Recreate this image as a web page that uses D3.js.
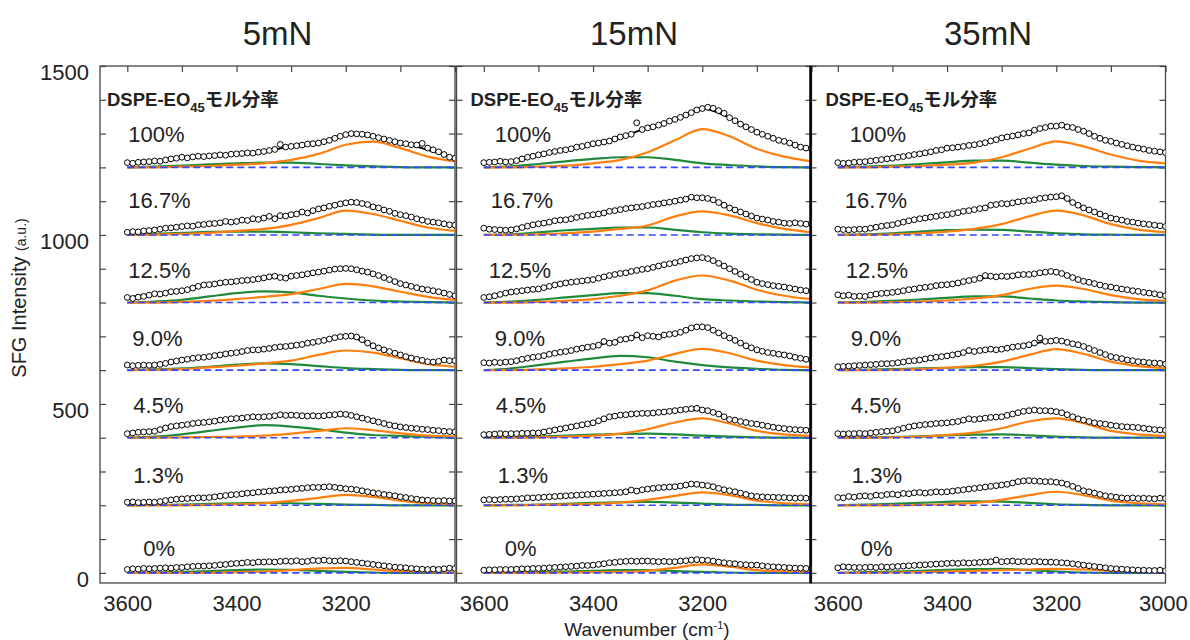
<!DOCTYPE html>
<html>
<head>
<meta charset="utf-8">
<script src="https://cdn.jsdelivr.net/npm/d3@7"></script>
<style>
  html, body { margin: 0; padding: 0; background: #fff; }
  svg { display: block; }
  text { font-family: "Liberation Sans", Arial, sans-serif; fill: #222; }
</style>
</head>
<body>
<svg id="chart" width="1190" height="640"></svg>
<script>
"use strict";
var panelTitles = ["5mN", "15mN", "35mN"];
var fractions = ["100%", "16.7%", "12.5%", "9.0%", "4.5%", "1.3%", "0%"];
var offsets = [1200, 1000, 800, 600, 400, 200, 0];
var fitWavenumbers = [3600, 3550, 3500, 3450, 3400, 3350, 3300, 3250, 3200, 3150, 3100, 3050, 3000];
var pointWavenumbers = d3.range(3600, 2995, -10);
var xTickLabels = [[3600, 3400, 3200], [3600, 3400, 3200], [3600, 3400, 3200, 3000]];
var yTickLabels = [0, 500, 1000, 1500];

// 5mN -- values above each trace's baseline (a.u.)
var points5 = [
  [14,12,15,16,17, 19,18,22,25,27, 30,28,31,33,32, 34,35,37,36,39, 40,41,43,42,45, 47,50,53,68,60,
   62,64,66,69,70, 72,76,80,86,92, 97,100,99,98,96, 92,88,84,80,76, 72,70,67,66,71, 57,52,46,38,30, 27],
  [8,10,9,12,13, 15,17,20,21,23, 25,27,26,30,31, 33,34,36,40,38, 40,44,43,48,46, 50,55,48,57,56,
   60,62,68,65,72, 77,80,85,88,92, 95,97,96,93,90, 83,80,74,70,64, 60,57,53,48,44, 40,38,36,33,30, 29],
  [15,12,16,18,22, 26,25,28,32,33, 35,38,43,48,52, 53,55,58,60,61, 63,65,66,68,70, 73,76,78,74,72,
   78,80,82,85,88, 90,93,96,99,100, 101,100,97,93,90, 85,80,74,68,62, 56,52,48,44,40, 38,35,32,28,24, 20],
  [15,13,14,15,14, 15,17,20,24,27, 30,32,35,37,38, 40,43,45,48,50, 52,55,58,60,60, 62,64,67,69,70,
   72,74,76,80,82, 85,88,92,96,99, 100,101,98,90,80, 72,66,60,55,50, 45,40,36,32,29, 25,24,26,30,28, 28],
  [12,14,16,17,18, 19,24,29,33,35, 37,39,42,44,45, 47,49,52,54,56, 57,58,60,62,61, 62,63,65,68,66,
   67,66,65,64,65, 64,65,67,68,70, 69,66,62,58,54, 50,46,42,38,35, 32,30,28,27,25, 24,22,21,19,18, 17],
  [9,10,8,9,10, 9,11,14,16,18, 19,20,21,22,22, 23,25,27,29,31, 32,34,36,37,39, 40,42,43,45,46,
   47,49,50,52,53, 53,54,55,53,51, 49,48,46,43,40, 37,35,32,30,28, 25,23,20,18,16, 15,14,13,14,13, 13],
  [10,12,11,13,12, 13,14,15,14,16, 16,18,19,20,20, 21,22,24,25,27, 28,29,31,30,32, 32,33,32,34,35,
   34,36,33,34,37, 36,38,36,35,36, 35,33,31,29,27, 25,23,21,19,17, 16,15,13,12,11, 10,11,10,12,14, 13]
];
var fit5 = [
  [14,19,30,34,40,47,62,72,97,92,72,52,27],
  [8,15,25,33,40,50,60,77,95,83,60,40,29],
  [15,26,35,53,63,73,78,90,101,85,56,38,20],
  [15,15,30,40,52,62,72,85,100,72,45,25,28],
  [12,19,37,47,57,62,67,64,69,50,32,24,17],
  [9,9,19,23,32,40,47,53,49,37,25,15,13],
  [10,13,16,21,28,32,34,36,35,25,16,10,13]
];
var orange5 = [
  [0,0,2,4,8,12,22,40,67,76,57,32,18],
  [0,1,3,6,12,18,30,50,72,62,42,22,12],
  [0,0,2,5,10,17,25,40,55,48,32,17,8],
  [0,1,3,8,13,20,28,45,58,52,35,18,10],
  [0,0,1,2,3,6,12,20,28,22,13,6,3],
  [0,0,0,1,3,6,13,22,31,25,14,6,3],
  [0,0,0,0,2,4,8,13,15,10,5,2,1]
];
var green5 = [
  [0,2,5,9,12,14,14,10,6,3,1,0,0],
  [0,3,6,9,10,10,8,5,3,1,0,0,0],
  [0,3,8,18,28,33,30,20,12,6,3,1,0],
  [0,2,5,10,16,20,18,12,6,3,1,0,0],
  [0,3,10,20,30,37,33,25,15,8,5,2,0],
  [0,1,2,4,6,7,6,4,2,1,0,0,0],
  [0,1,3,5,8,10,9,6,3,1,0,0,0]
];

// 15mN
var points15 = [
  [14,15,16,18,16, 17,20,25,30,33, 37,40,44,47,50, 52,55,60,62,66, 70,72,75,78,84, 90,94,98,132,112,
   117,120,125,130,137, 142,148,155,162,170, 174,178,175,168,160, 147,138,128,120,112, 104,98,92,86,80, 77,72,66,60,57, 54],
  [20,17,16,15,14, 15,18,22,26,30, 33,35,38,42,44, 45,48,52,55,58, 60,62,65,70,72, 75,78,80,82,84,
   87,90,92,95,97, 100,103,106,112,110, 110,108,104,96,88, 80,74,68,62,56, 50,47,44,40,38, 35,34,36,34,32, 35],
  [15,17,20,24,28, 31,33,35,37,39, 40,44,48,52,55, 58,60,62,64,66, 68,72,76,80,83, 86,88,92,95,98,
   100,104,108,112,115, 118,122,126,130,132, 133,130,124,116,108, 100,92,84,76,68, 60,56,53,50,48, 46,43,40,37,35, 33],
  [22,21,23,22,24, 25,28,32,35,38, 40,43,47,50,53, 55,58,62,65,68, 70,74,85,80,82, 90,92,95,104,96,
   102,100,98,104,106, 108,112,118,125,128, 128,126,118,110,102, 95,88,80,72,66, 60,56,52,50,47, 45,42,38,35,32, 30],
  [9,10,11,12,11, 12,12,13,13,14, 14,17,20,23,26, 29,32,35,38,41, 44,50,56,62,64, 67,68,70,71,72,
   72,73,75,76,78, 80,82,84,86,87, 82,80,75,70,62, 54,52,48,45,42, 40,37,34,31,29, 27,25,24,23,22, 22],
  [16,17,16,17,18, 18,19,20,22,22, 23,24,25,26,27, 28,29,30,31,32, 33,34,35,36,37, 38,40,45,42,46,
   48,50,52,53,54, 55,57,60,63,62, 60,58,55,50,46, 43,40,36,32,28, 26,25,24,24,23, 23,22,21,22,21, 20],
  [8,9,9,10,10, 10,11,12,12,13, 13,14,15,16,17, 18,19,20,22,22, 23,25,27,30,31, 33,34,35,34,35,
   35,34,33,34,33, 33,35,36,38,39, 38,37,35,32,30, 28,27,25,24,23, 23,21,19,18,17, 16,15,14,14,13, 13]
];
var fit15 = [
  [14,17,37,52,70,90,117,142,174,147,104,77,54],
  [20,15,33,45,60,75,87,100,110,80,50,35,35],
  [15,31,40,58,68,86,100,118,133,100,60,46,33],
  [22,25,40,55,70,90,102,108,128,95,60,45,30],
  [9,12,14,29,44,67,72,80,82,54,40,27,22],
  [16,18,23,28,33,38,48,55,60,43,26,23,20],
  [8,10,13,18,23,33,35,33,38,28,23,16,13]
];
var orange15 = [
  [0,0,2,5,12,22,45,80,113,92,55,32,18],
  [0,0,2,5,10,18,28,55,70,58,35,18,8],
  [0,0,2,5,10,20,36,65,80,65,38,20,10],
  [0,0,2,5,10,18,28,48,63,50,28,15,8],
  [0,0,1,3,6,12,25,45,57,42,20,10,5],
  [0,0,1,2,4,8,16,28,38,30,14,6,3],
  [0,0,0,1,2,3,6,15,25,18,8,4,2]
];
var green15 = [
  [0,3,10,18,25,30,30,22,12,7,3,1,0],
  [0,2,8,14,18,22,22,15,8,4,2,1,0],
  [0,3,8,15,22,28,28,20,10,6,3,1,0],
  [0,5,15,25,35,42,38,25,15,8,4,1,0],
  [0,1,3,6,9,11,12,10,6,3,1,0,0],
  [0,1,2,4,7,9,10,8,5,2,1,0,0],
  [0,1,2,4,6,8,8,5,3,1,0,0,0]
];

// 35mN
var points35 = [
  [14,12,13,15,16, 17,19,21,23,25, 27,30,32,35,38, 40,43,46,50,52, 57,58,60,62,65, 67,70,73,78,82,
   87,90,93,96,100, 102,110,115,118,122, 122,125,120,118,112, 107,100,92,86,80, 77,72,68,64,60, 57,54,50,48,46, 44],
  [17,16,15,16,17, 17,20,23,26,28, 30,34,38,42,45, 48,50,53,55,58, 60,63,66,70,72, 75,78,80,88,90,
   93,92,95,98,100, 102,104,108,110,112, 113,116,108,96,88, 80,74,68,62,56, 50,47,44,40,38, 35,33,31,29,27, 25],
  [23,20,22,18,19, 18,22,25,27,28, 30,32,35,38,40, 43,45,47,50,52, 53,55,58,62,65, 68,72,80,78,76,
   78,77,79,82,83, 83,85,88,90,92, 90,86,80,74,68, 63,60,56,52,48, 46,43,40,38,35, 33,30,28,26,23, 20],
  [10,11,12,13,14, 15,16,17,19,19, 20,22,24,27,28, 30,33,36,38,40, 42,45,48,52,58, 55,58,60,62,60,
   62,65,68,70,72, 75,80,95,85,86, 88,86,82,78,75, 70,64,58,52,46, 40,37,34,30,28, 25,24,22,21,20, 18],
  [12,11,12,12,13, 12,14,16,18,19, 20,24,28,32,35, 37,39,40,42,43, 44,46,48,52,56, 54,56,58,60,61,
   62,66,70,74,78, 80,82,80,80,79, 77,74,68,62,56, 52,48,44,42,40, 37,35,33,32,31, 30,28,26,24,23, 22],
  [23,22,26,24,27, 28,26,30,29,32, 33,31,35,34,37, 38,36,38,40,39, 40,42,44,46,48, 50,52,54,56,58,
   60,62,66,70,72, 73,72,71,70,70, 68,66,62,56,50, 43,40,36,32,28, 26,24,22,21,22, 20,21,20,19,21, 20],
  [15,18,17,16,16, 16,17,16,18,17, 18,19,20,21,22, 23,24,25,26,27, 28,29,28,30,29, 30,31,32,33,38,
   33,34,35,33,34, 33,34,33,32,32, 31,30,29,27,25, 23,21,19,17,15, 13,12,11,10,9, 8,8,7,7,8, 6]
];
var fit35 = [
  [14,17,27,40,57,67,87,102,122,107,77,57,44],
  [17,17,30,48,60,75,93,102,113,80,50,35,25],
  [23,18,30,43,53,68,78,83,90,63,46,33,20],
  [10,15,20,30,42,55,62,75,88,70,40,25,18],
  [12,12,20,37,44,54,62,80,77,52,37,30,22],
  [23,28,33,38,40,50,60,73,68,43,26,20,20],
  [15,16,18,23,28,30,33,33,31,23,13,8,6]
];
var orange35 = [
  [0,0,2,4,8,14,30,55,77,62,38,20,12],
  [0,0,2,5,10,18,32,55,72,58,32,16,8],
  [0,0,1,3,6,12,22,40,50,40,22,10,5],
  [0,0,1,3,7,13,25,45,62,48,25,12,6],
  [0,0,1,3,8,15,28,48,57,43,20,10,5],
  [0,0,0,1,3,7,16,30,40,30,14,6,3],
  [0,0,1,2,4,6,8,10,12,10,6,3,1]
];
var green35 = [
  [0,2,5,10,15,20,20,14,8,4,2,1,0],
  [0,2,5,10,14,16,15,10,5,2,1,0,0],
  [0,2,5,9,14,18,18,12,6,3,1,0,0],
  [0,1,3,5,7,9,9,6,3,1,0,0,0],
  [0,1,2,4,7,9,10,7,3,1,0,0,0],
  [0,2,4,7,10,12,11,7,3,1,0,0,0],
  [0,2,4,6,9,11,12,8,4,1,0,0,0]
];

var panels = [
  { title: panelTitles[0], points: points5, fit: fit5, orange: orange5, green: green5 },
  { title: panelTitles[1], points: points15, fit: fit15, orange: orange15, green: green15 },
  { title: panelTitles[2], points: points35, fit: fit35, orange: orange35, green: green35 }
];

// layout
var panelLeft = [100, 456.5, 810.5];
var panelWidth = 355;
var plotTop = 66, plotBottom = 583;
var labelLift = [100, 104, 96, 95, 97, 90, 74];
var labelShift = [[1, 1, 1, 5, 6, 6, 16], [11, 7, 5, 11, 12, 14, 21], [12, 7, 8, 13, 13, 14, 23]];
var cOrange = "#ff7f0e", cGreen = "#1f8a3c", cBlue = "#3347ff", cAxis = "#444";

var svg = d3.select("#chart");
var y = d3.scaleLinear().domain([-30, 1500]).range([plotBottom, plotTop]);

panels.forEach(function (p, pi) {
  var x0 = panelLeft[pi];
  var x = d3.scaleLinear().domain([3650, 3000]).range([x0, x0 + panelWidth]);
  var g = svg.append("g");

  svg.append("clipPath").attr("id", "clip" + pi)
    .append("rect").attr("x", x0).attr("y", plotTop).attr("width", panelWidth).attr("height", plotBottom - plotTop);

  // title
  g.append("text")
    .attr("x", x0 + panelWidth / 2).attr("y", 45)
    .attr("text-anchor", "middle").attr("font-size", 33)
    .text(p.title);

  // axes
  var topAxis = d3.axisTop(x).tickValues(d3.range(3600, 2999, -100)).tickSize(-6).tickFormat("");
  g.append("g").attr("transform", "translate(0," + plotTop + ")").call(topAxis);
  var bottomAxis = d3.axisBottom(x).tickValues(xTickLabels[pi]).tickSize(0).tickPadding(12)
    .tickFormat(d3.format("d"));
  g.append("g").attr("class", "xlab").attr("transform", "translate(0," + plotBottom + ")").call(bottomAxis);
  var leftAxis = d3.axisLeft(y).tickValues(d3.range(0, 1501, 100)).tickSize(-6)
    .tickFormat(function (d) { return pi === 0 && yTickLabels.indexOf(d) >= 0 ? d : ""; });
  g.append("g").attr("class", "ylab").attr("transform", "translate(" + x0 + ",0)").call(leftAxis);
  var rightAxis = d3.axisRight(y).tickValues(d3.range(0, 1501, 100)).tickSize(-6).tickFormat("");
  g.append("g").attr("transform", "translate(" + (x0 + panelWidth) + ",0)").call(rightAxis);
  g.selectAll(".domain").remove();
  g.selectAll(".tick line").attr("stroke", cAxis).attr("stroke-width", 1.2);
  g.selectAll(".xlab text").attr("font-size", 22).attr("fill", "#222")
    .attr("font-family", "Liberation Sans, Arial, sans-serif")
    .attr("dx", function (d) { return d === 3000 ? "-0.12em" : 0; });
  g.selectAll(".ylab text").attr("font-size", 22).attr("fill", "#222").attr("dy", "0.6em").attr("x", -11)
    .attr("font-family", "Liberation Sans, Arial, sans-serif");

  // box
  g.append("rect")
    .attr("x", x0).attr("y", plotTop).attr("width", panelWidth).attr("height", plotBottom - plotTop)
    .attr("fill", "none").attr("stroke", cAxis).attr("stroke-width", 1.3);

  var plot = g.append("g").attr("clip-path", "url(#clip" + pi + ")");

  offsets.forEach(function (off, ti) {
    var curve = function (vals) {
      return d3.line()
        .x(function (d, i) { return x(fitWavenumbers[i]); })
        .y(function (d) { return y(off + d); })
        .curve(d3.curveMonotoneX)(vals);
    };
    plot.append("path").attr("d", curve(p.green[ti]))
      .attr("fill", "none").attr("stroke", cGreen).attr("stroke-width", 2.2);
    plot.append("path").attr("d", curve(p.orange[ti]))
      .attr("fill", "none").attr("stroke", cOrange).attr("stroke-width", 2.2);
    plot.append("line")
      .attr("x1", x(3600)).attr("x2", x(3000)).attr("y1", y(off)).attr("y2", y(off))
      .attr("stroke", cBlue).attr("stroke-width", 1.6).attr("stroke-dasharray", "7,4");
    plot.append("path").attr("d", curve(p.fit[ti]))
      .attr("fill", "none").attr("stroke", "#000").attr("stroke-width", 1.8);
    plot.selectAll(null)
      .data(p.points[ti])
      .enter().append("circle")
      .attr("cx", function (d, i) { return x(pointWavenumbers[i]); })
      .attr("cy", function (d) { return y(off + d); })
      .attr("r", 2.9)
      .attr("fill", "#fff").attr("stroke", "#000").attr("stroke-width", 1);

    g.append("text")
      .attr("x", x(3600) + labelShift[pi][ti])
      .attr("y", y(off + labelLift[ti]) + 8)
      .attr("font-size", 22)
      .text(fractions[ti]);
  });

  // series title
  var t = g.append("text")
    .attr("x", x0 + [7, 14, 15][pi]).attr("y", 106)
    .attr("font-size", 18.5).attr("font-weight", "bold");
  t.append("tspan").text("DSPE-EO");
  t.append("tspan").attr("font-size", 13).attr("dy", 6).text("45");
  t.append("tspan").attr("dy", -6).attr("font-size", 18.5)
    .attr("font-family", "Noto Sans CJK JP, sans-serif").text("モル分率");
});

// thicker divider between 15mN and 35mN
svg.append("line")
  .attr("x1", panelLeft[2]).attr("x2", panelLeft[2]).attr("y1", plotTop).attr("y2", plotBottom)
  .attr("stroke", "#000").attr("stroke-width", 2.4);

// axis titles
var yt = svg.append("text")
  .attr("transform", "translate(26,298) rotate(-90)")
  .attr("text-anchor", "middle").attr("font-size", 20).attr("fill", "#333");
yt.append("tspan").text("SFG Intensity ");
yt.append("tspan").attr("font-size", 14).text("(a.u.)");

var xt = svg.append("text")
  .attr("x", 647).attr("y", 636)
  .attr("text-anchor", "middle").attr("font-size", 19).attr("fill", "#333");
xt.append("tspan").text("Wavenumber (cm");
xt.append("tspan").attr("font-size", 11).attr("dy", -7).text("-1");
xt.append("tspan").attr("dy", 7).text(")");
</script>
</body>
</html>
